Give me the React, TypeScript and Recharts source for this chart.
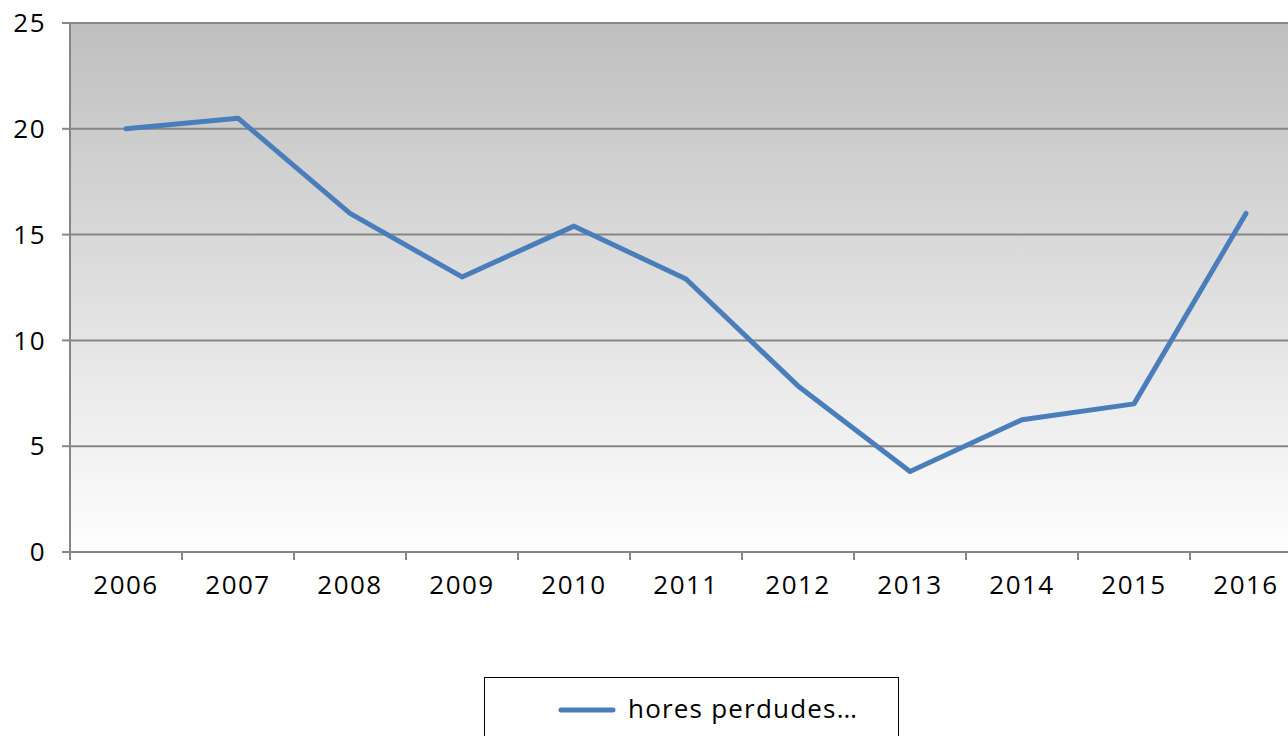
import React from "react";
import {
  LineChart,
  Line,
  XAxis,
  YAxis,
  CartesianGrid,
  Legend,
} from "recharts";

const years = ["2006", "2007", "2008", "2009", "2010", "2011", "2012", "2013", "2014", "2015", "2016"];
const horesPerdudes = [20, 20.5, 16, 13, 15.4, 12.9, 7.85, 3.8, 6.25, 7, 16];
const yTicks = [0, 5, 10, 15, 20, 25];

const data = years.map((year, i) => ({ idx: i, year, hores: horesPerdudes[i] }));
const xTicks = years.map((_, i) => i);

const FONT = "'Open Sans', sans-serif";
const AXIS_GREY = "#868686";

const YearTick = (props: any) => {
  const { x, y, payload, width, index } = props;
  const step = (Number(width) || 1232) / years.length;
  const last = index === years.length - 1;
  return (
    <g>
      <line x1={x - step / 2} x2={x - step / 2} y1={y} y2={y + 8} stroke={AXIS_GREY} strokeWidth={2} />
      {last && <line x1={x + step / 2} x2={x + step / 2} y1={y} y2={y + 8} stroke={AXIS_GREY} strokeWidth={2} />}
      <text x={x} y={y + 42} textAnchor="middle" fill="#000" fontSize={26} letterSpacing={1.5} fontFamily={FONT}>
        {years[payload.value]}
      </text>
    </g>
  );
};

const LegendBox = (props: any) => {
  const item = props.payload?.[0];
  return (
    <div
      style={{
        boxSizing: "border-box",
        width: 415,
        height: 80,
        border: "1.5px solid #000",
        background: "#fff",
        position: "relative",
        fontFamily: FONT,
      }}
    >
      <svg width={60} height={10} style={{ position: "absolute", left: 72, top: 27 }}>
        <line x1={4} x2={56} y1={5} y2={5} stroke={item?.color ?? "#4a7ebb"} strokeWidth={5} strokeLinecap="round" />
      </svg>
      <span style={{ position: "absolute", left: 143, top: 12, fontSize: 26, letterSpacing: 1.2, color: "#000", whiteSpace: "nowrap" }}>
        {item?.value ?? "hores perdudes…"}
      </span>
    </div>
  );
};

export default function App() {
  return (
    <div style={{ position: "absolute", left: 0, top: 0, width: 1288, height: 736, overflow: "hidden", background: "#fff" }}>
      <LineChart
        width={1312}
        height={736}
        data={data}
        margin={{ top: 23, right: 10, bottom: 0, left: 0 }}
        style={{ fontFamily: FONT }}
      >
        <defs>
          <linearGradient id="plotBg" x1="0" y1="0" x2="0" y2="1">
            <stop offset="0%" stopColor="#bfbfbf" />
            <stop offset="100%" stopColor="#fefefe" />
          </linearGradient>
        </defs>
        <CartesianGrid vertical={false} fill="url(#plotBg)" stroke={AXIS_GREY} strokeWidth={2} />
        <XAxis
          dataKey="idx"
          type="number"
          domain={[-0.5, 10.5]}
          ticks={xTicks}
          interval={0}
          height={104}
          tickLine={false}
          tickSize={0}
          tickMargin={0}
          axisLine={{ stroke: AXIS_GREY, strokeWidth: 2 }}
          tick={<YearTick />}
        />
        <YAxis
          domain={[0, 25]}
          ticks={yTicks}
          interval={0}
          width={70}
          tickSize={8}
          tickMargin={16}
          tickLine={{ stroke: AXIS_GREY, strokeWidth: 2 }}
          axisLine={{ stroke: AXIS_GREY, strokeWidth: 2 }}
          tick={{ fill: "#000", fontSize: 26, letterSpacing: 1.5 }}
        />
        <Legend
          layout="vertical"
          align="center"
          verticalAlign="bottom"
          content={<LegendBox />}
          wrapperStyle={{ left: 484, top: 677, bottom: "auto", width: 415 }}
        />
        <Line
          type="linear"
          dataKey="hores"
          name="hores perdudes…"
          stroke="#4a7ebb"
          strokeWidth={5}
          strokeLinecap="round"
          strokeLinejoin="round"
          dot={false}
          activeDot={false}
          isAnimationActive={false}
        />
      </LineChart>
    </div>
  );
}
